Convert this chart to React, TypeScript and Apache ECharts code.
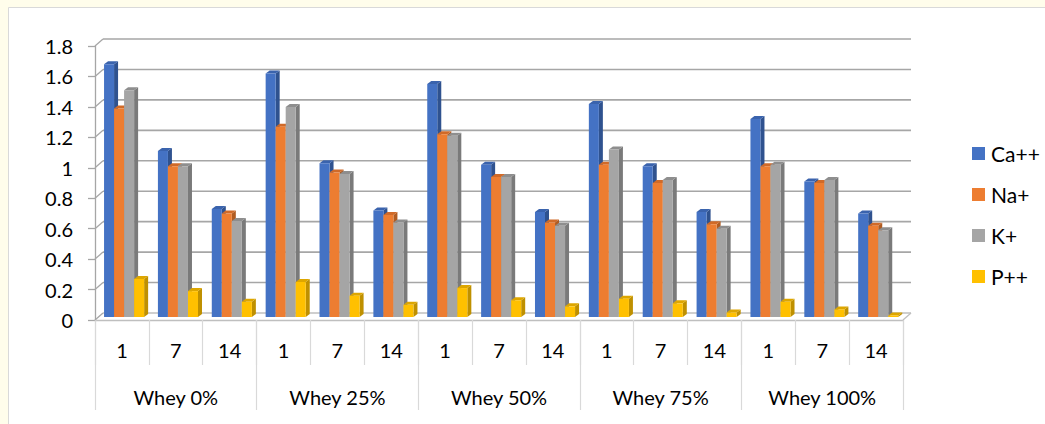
import React, { useEffect, useRef } from "react";
import * as echarts from "echarts";

// Mineral content per whey level and storage day
const groups = ["Whey 0%", "Whey 25%", "Whey 50%", "Whey 75%", "Whey 100%"];
const days = ["1", "7", "14"];
const seriesNames = ["Ca++", "Na+", "K+", "P++"];

const caValues = [1.66, 1.09, 0.71, 1.6, 1.01, 0.7, 1.53, 1.0, 0.69, 1.4, 0.99, 0.69, 1.3, 0.89, 0.68];
const naValues = [1.37, 0.99, 0.68, 1.25, 0.95, 0.67, 1.2, 0.92, 0.62, 1.0, 0.88, 0.61, 0.99, 0.88, 0.6];
const kValues = [1.49, 0.99, 0.63, 1.38, 0.94, 0.62, 1.19, 0.92, 0.6, 1.1, 0.9, 0.58, 1.0, 0.9, 0.57];
const pValues = [0.25, 0.17, 0.1, 0.23, 0.14, 0.08, 0.19, 0.11, 0.07, 0.12, 0.09, 0.03, 0.1, 0.05, 0.01];

const yTicks = [0, 0.2, 0.4, 0.6, 0.8, 1.0, 1.2, 1.4, 1.6, 1.8];

const frontColors = ["#4472C4", "#ED7D31", "#A5A5A5", "#FFC000"];
const sideColors = ["#2F528F", "#B05C22", "#7A7A7A", "#BF9000"];
const topColors = ["#3A63AD", "#D06A28", "#8E8E8E", "#DDA600"];

const FONT = "Lato";
const WALL_DX = 8;
const WALL_DY = 7;

export default function App() {
  const ref = useRef<HTMLDivElement>(null);

  useEffect(() => {
    if (!ref.current) return;
    const chart = echarts.init(ref.current, undefined, { renderer: "svg" });

    const dayLabels: string[] = [];
    groups.forEach(() => days.forEach((d) => dayLabels.push(d)));

    const allValues = [caValues, naValues, kValues, pValues];

    const barSeries = allValues.map((vals, si) => ({
      type: "custom",
      name: seriesNames[si],
      xAxisIndex: 0,
      yAxisIndex: 0,
      itemStyle: { color: frontColors[si] },
      z: 3,
      data: vals.map((v, i) => [i, v]),
      renderItem: (params: any, api: any) => {
        const ci = api.value(0);
        const v = api.value(1);
        const [cx, yTopRaw] = api.coord([ci, v]);
        const yBaseRaw = api.coord([ci, 0])[1];
        const catW = api.size([1, 0])[0];
        const bw = catW * 0.186;
        const lift = 3;
        const dx = 4;
        const dy = 3;
        const x0 = cx + catW * 0.04 + (si - 2) * bw;
        const yT = yTopRaw - lift;
        const yB = yBaseRaw - lift;
        return {
          type: "group",
          children: [
            {
              type: "polygon",
              shape: {
                points: [
                  [x0 + bw, yT],
                  [x0 + bw + dx, yT - dy],
                  [x0 + bw + dx, yB - dy],
                  [x0 + bw, yB],
                ],
              },
              style: { fill: sideColors[si] },
            },
            {
              type: "polygon",
              shape: {
                points: [
                  [x0, yT],
                  [x0 + dx, yT - dy],
                  [x0 + bw + dx, yT - dy],
                  [x0 + bw, yT],
                ],
              },
              style: { fill: topColors[si] },
            },
            {
              type: "rect",
              shape: { x: x0, y: yT, width: bw, height: yB - yT },
              style: { fill: frontColors[si] },
            },
          ],
        };
      },
    }));

    // Back wall gridlines, left wall connectors and the floor outline
    const frameSeries = {
      type: "custom",
      name: "frame",
      xAxisIndex: 0,
      yAxisIndex: 0,
      silent: true,
      z: 1,
      data: yTicks.map((t) => [0, t]),
      renderItem: (params: any, api: any) => {
        const t = api.value(1);
        const y = api.coord([0, t])[1];
        const left = params.coordSys.x;
        const right = params.coordSys.x + params.coordSys.width;
        const color = t === 0 ? "#BFBFBF" : "#A6A6A6";
        const children: any[] = [
          {
            type: "line",
            shape: { x1: left, y1: y, x2: left + WALL_DX, y2: y - WALL_DY },
            style: { stroke: "#A6A6A6", lineWidth: 1.3 },
          },
          {
            type: "line",
            shape: { x1: left + WALL_DX, y1: y - WALL_DY, x2: right + WALL_DX, y2: y - WALL_DY },
            style: { stroke: color, lineWidth: 1.6 },
          },
        ];
        if (t === 0) {
          children.push({
            type: "line",
            shape: { x1: right, y1: y, x2: right + WALL_DX, y2: y - WALL_DY },
            style: { stroke: "#BFBFBF", lineWidth: 1.3 },
          });
        }
        return { type: "group", children };
      },
    };

    const option: any = {
      animation: false,
      backgroundColor: "#FFFDEB",
      textStyle: { fontFamily: FONT },
      graphic: [
        {
          type: "rect",
          z: -10,
          silent: true,
          shape: { x: 8.5, y: 7.5, width: 1045, height: 430 },
          style: { fill: "#FFFFFF", stroke: "#D9D9D9", lineWidth: 1 },
        },
      ],
      grid: {
        left: 95,
        right: 142,
        top: 46,
        bottom: 104,
        containLabel: false,
        outerBoundsMode: "none",
      },
      legend: {
        orient: "vertical",
        left: 972,
        top: 143,
        padding: 0,
        itemWidth: 13,
        itemHeight: 13,
        itemGap: 20,
        icon: "rect",
        data: seriesNames,
        textStyle: { fontFamily: FONT, fontSize: 21, color: "#000000", padding: [0, 0, 0, 1] },
      },
      xAxis: [
        {
          type: "category",
          position: "bottom",
          data: dayLabels,
          axisLine: { show: true, lineStyle: { color: "#BFBFBF", width: 1.3 } },
          axisTick: { show: true, interval: 0, length: 45, lineStyle: { color: "#D9D9D9", width: 1.2 } },
          axisLabel: { interval: 0, margin: 20, fontFamily: FONT, fontSize: 20, color: "#000000" },
          splitLine: { show: false },
        },
        {
          type: "category",
          position: "bottom",
          data: groups,
          axisLine: { show: false },
          axisTick: { show: true, interval: 0, length: 90, lineStyle: { color: "#D9D9D9", width: 1.2 } },
          axisLabel: { interval: 0, margin: 67, fontFamily: FONT, fontSize: 20, color: "#000000" },
          splitLine: { show: false },
        },
      ],
      yAxis: {
        type: "value",
        min: 0,
        max: 1.8,
        interval: 0.2,
        axisLine: { show: true, lineStyle: { color: "#A6A6A6", width: 1.3 } },
        axisTick: { show: true, length: 7, lineStyle: { color: "#A6A6A6", width: 1.3 } },
        axisLabel: {
          margin: 22,
          fontFamily: FONT,
          fontSize: 20,
          color: "#000000",
          formatter: (v: number) => String(Math.round(v * 10) / 10),
        },
        splitLine: { show: false },
      },
      series: [frameSeries, ...barSeries],
    };

    chart.setOption(option);
    return () => chart.dispose();
  }, []);

  return (
    <div
      ref={ref}
      style={{ position: "fixed", left: 0, top: 0, width: 1045, height: 424 }}
    />
  );
}
